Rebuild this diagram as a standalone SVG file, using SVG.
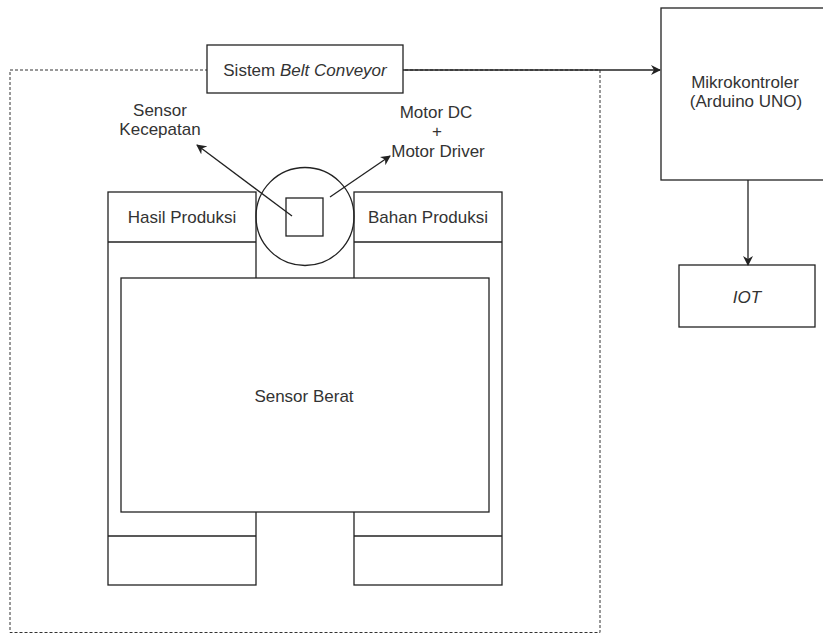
<svg xmlns="http://www.w3.org/2000/svg" width="823" height="634" viewBox="0 0 823 634">
<style>
.b{fill:#fff;stroke:#222;stroke-width:1.3}
.n{fill:none;stroke:#222;stroke-width:1.3}
.t{font-family:"Liberation Sans",Arial,sans-serif;font-size:17px;fill:#333;text-anchor:middle}
.i{font-style:italic}
.c{fill:none;stroke:#222;stroke-width:1.3}
</style>
<defs>
<marker id="ah" viewBox="0 0 10 10" refX="9" refY="5" markerWidth="10" markerHeight="10" markerUnits="userSpaceOnUse" orient="auto">
<path d="M0,0 L10,5 L0,10 L3,5 Z" fill="#222"/>
</marker>
</defs>
<rect x="10" y="70" width="590" height="562.5" fill="none" stroke="#333" stroke-width="1" stroke-dasharray="3 2"/>
<g id="hasil">
<rect class="b" x="108" y="192" width="148" height="393"/>
<line class="n" x1="108" y1="242" x2="256" y2="242"/>
<line class="n" x1="108" y1="536" x2="256" y2="536"/>
<text class="t" x="182" y="223">Hasil Produksi</text>
</g>
<g id="bahan">
<rect class="b" x="354" y="192" width="148" height="393"/>
<line class="n" x1="354" y1="242" x2="502" y2="242"/>
<line class="n" x1="354" y1="536" x2="502" y2="536"/>
<text class="t" x="428" y="223">Bahan Produksi</text>
</g>
<g id="sensor-berat">
<rect class="b" x="121" y="278" width="368" height="234"/>
<text class="t" x="304" y="402">Sensor Berat</text>
</g>
<g id="roller">
<circle class="n" cx="305" cy="216.5" r="49"/>
<rect class="n" x="286" y="198" width="37" height="38"/>
</g>
<g id="belt">
<rect class="b" x="207" y="45" width="196" height="48"/>
<text class="t" x="305" y="76">Sistem <tspan class="i">Belt Conveyor</tspan></text>
</g>
<g id="sensor-kecepatan">
<text class="t" x="160" y="116">Sensor</text>
<text class="t" x="160" y="135">Kecepatan</text>
</g>
<g id="motor">
<text class="t" x="436" y="118">Motor DC</text>
<text class="t" x="437" y="137">+</text>
<text class="t" x="438" y="157">Motor Driver</text>
</g>
<g id="mikro">
<rect class="b" x="661" y="8" width="172" height="172"/>
<text class="t" x="745" y="88">Mikrokontroler</text>
<text class="t" x="746" y="107">(Arduino UNO)</text>
</g>
<g id="iot">
<rect class="b" x="679" y="265" width="136" height="62"/>
<text class="t i" x="747" y="303">IOT</text>
</g>
<g id="connectors">
<line class="c" x1="403" y1="70" x2="660" y2="70" marker-end="url(#ah)"/>
<line class="c" x1="748" y1="180" x2="748" y2="265" marker-end="url(#ah)"/>
<line class="c" x1="292" y1="216" x2="197" y2="145" marker-end="url(#ah)"/>
<line class="c" x1="330" y1="197" x2="390" y2="156" marker-end="url(#ah)"/>
</g>
</svg>
